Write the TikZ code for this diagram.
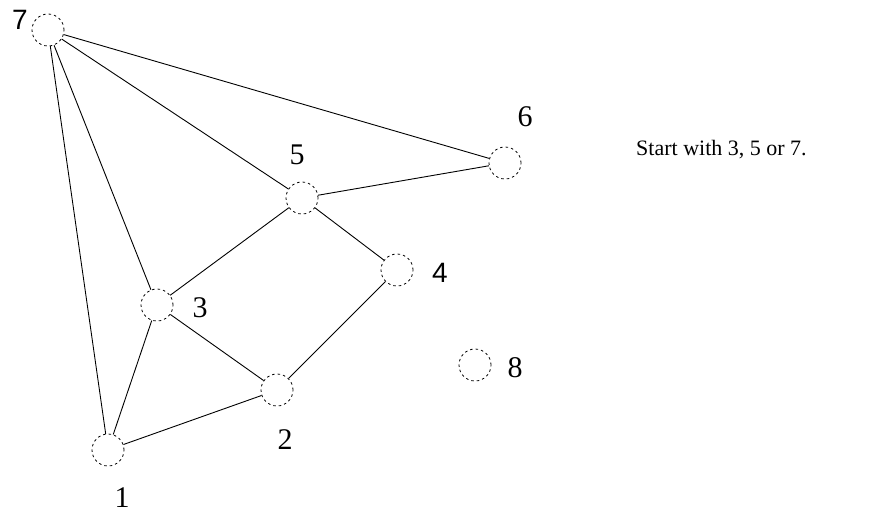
\documentclass[tikz,border=0pt]{standalone}
\usepackage{fontspec}
\setmainfont{Liberation Serif}
\newfontfamily\labsans{Liberation Sans}
\begin{document}
\begin{tikzpicture}[x=1pt,y=-1pt,
  vert/.style={circle,draw,dash pattern=on 2.5pt off 3pt,line width=0.8pt,minimum size=32pt,inner sep=0pt},
  lab/.style={font=\fontsize{30}{34}\selectfont,inner sep=0pt},
  labs/.style={font=\labsans\fontsize{28}{32}\selectfont,inner sep=0pt},
  note/.style={font=\fontsize{22}{26}\selectfont,inner sep=0pt},
  edge/.style={line width=0.9pt}]
\useasboundingbox (0,0) rectangle (888,514);
\node[vert] (n7) at (48,30) {};
\node[vert] (n6) at (505,163) {};
\node[vert] (n5) at (302,198) {};
\node[vert] (n4) at (397,270) {};
\node[vert] (n3) at (157,305) {};
\node[vert] (n8) at (475,365) {};
\node[vert] (n2) at (277,390) {};
\node[vert] (n1) at (108,450) {};
\node[labs] (l7) at (20,20) {7};
\node[lab] (l6) at (525,117) {6};
\node[lab] (l5) at (297,155) {5};
\node[labs] (l4) at (440,273) {4};
\node[lab] (l3) at (200,308) {3};
\node[lab] (l8) at (515,368) {8};
\node[lab] (l2) at (285,440) {2};
\node[lab] (l1) at (122,498) {1};
\node[note,anchor=base west] (txt) at (636,155) {Start with 3, 5 or 7.};
\draw[edge] (n7) -- (n6);
\draw[edge] (n7) -- (n5);
\draw[edge] (n7) -- (n3);
\draw[edge] (n7) -- (n1);
\draw[edge] (n6) -- (n5);
\draw[edge] (n5) -- (n3);
\draw[edge] (n5) -- (n4);
\draw[edge] (n4) -- (n2);
\draw[edge] (n3) -- (n2);
\draw[edge] (n3) -- (n1);
\draw[edge] (n1) -- (n2);
\end{tikzpicture}
\end{document}
